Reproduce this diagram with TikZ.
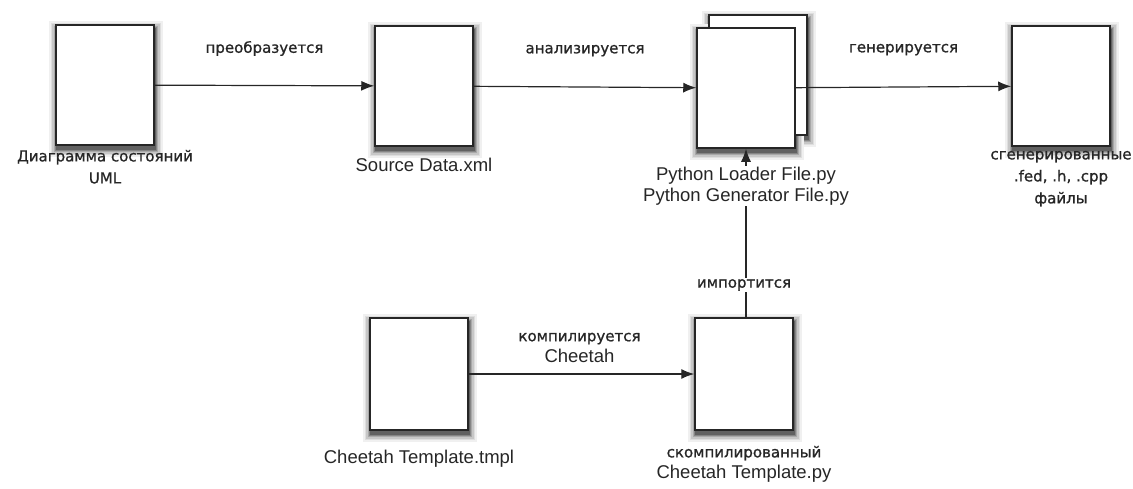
\documentclass[tikz,border=0pt]{standalone}
\usepackage{fontspec}
\setmainfont{Liberation Sans}
\newfontfamily\cyr[FakeBold=1]{DejaVu Sans}
\usetikzlibrary{arrows.meta,positioning,backgrounds}

\tikzset{
  doc/.style={draw=black!85, line width=1.5pt, fill=white,
              minimum width=98pt, minimum height=120pt},
  lbl/.style={text=black!85, align=center, inner sep=1pt,
              font=\fontsize{18.5}{21}\selectfont},
  rlbl/.style={lbl, font=\cyr\fontsize{15}{22}\selectfont},
  flow/.style={line width=1.2pt, black!85, -{Latex[length=13pt,width=10pt]}}
}

\begin{document}
\begin{tikzpicture}[x=1pt,y=-1pt]
  \useasboundingbox (0,0) rectangle (1133,488);

  % upper row
  \node[doc] (uml) at (105,85) {};
  \node[doc] (src) at (424,86) {};
  \node[doc] (pyb) at (758,75) {};
  \node[doc] (py)  at (746,88) {};
  \node[doc] (out) at (1061,86) {};

  % lower row
  \node[doc, minimum height=112pt] (tmpl) at (419,374) {};
  \node[doc, minimum height=112pt] (cpy)  at (744,374) {};

  % soft shadows
  \begin{scope}[on background layer]
    \foreach \b in {uml,src,pyb,py,out,tmpl,cpy}
      \foreach \s/\c in {7/6, 5.5/13, 4/22, 2.6/34, 1.4/48, 0.4/62}
        \fill[black!\c] ([shift={(1pt-\s*1pt,-4pt-\s*1pt)}]\b.south west)
          rectangle ([shift={(1pt+\s*1pt,-4pt+\s*1pt)}]\b.north east);
  \end{scope}

  % captions
  \node[rlbl, below=3pt of uml] (umltxt) {Диаграмма состояний\\UML};
  \node[lbl, below=10pt of src] (srctxt) {Source Data.xml};
  \node[rlbl, below=3pt of out] (outtxt) {сгенерированные\\.fed, .h, .cpp\\файлы};
  \node[lbl, below=18pt of tmpl] (tmpltxt) {Cheetah Template.tmpl};
  \node[lbl, below=14pt of cpy] (cpytxt)
       {{\cyr\fontsize{15}{21}\selectfont скомпилированный}\\Cheetah Template.py};

  % connectors
  \draw[flow] (uml) -- node[rlbl, above=28pt] (l1) {преобразуется} (src);
  \draw[flow] (src) -- node[rlbl, above=29pt] (l2) {анализируется} (py);
  \draw[flow] (py) -- node[rlbl, above=30pt] (l3) {генерируется} (out);
  \draw[flow] (tmpl) -- node[lbl, above=10pt, xshift=-2pt] (l4)
       {{\cyr\fontsize{15}{20}\selectfont компилируется}\\Cheetah} (cpy);
  \draw[flow] (cpy.north -| py.south) -- (py.south);
  \node[rlbl, fill=white] (l5) at (744,285) {импортится};
  \node[lbl, fill=white, below=17pt of py] (pytxt)
       {Python Loader File.py\\Python Generator File.py};
\end{tikzpicture}
\end{document}
